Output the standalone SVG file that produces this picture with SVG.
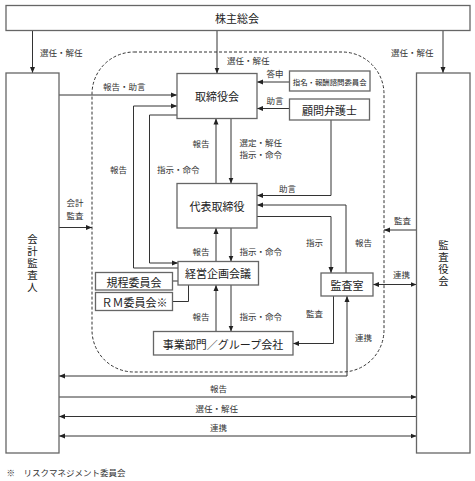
<svg xmlns="http://www.w3.org/2000/svg" width="475" height="481" viewBox="0 0 475 481">
<style>
.box{fill:#fff;stroke:#666;stroke-width:1.3}
.t{font-family:"Noto Sans CJK JP","Noto Sans CJK SC",sans-serif;font-size:11px;fill:#222;text-anchor:middle;dominant-baseline:central}
.s{font-size:7.4px}
.v{font-size:10.4px;writing-mode:vertical-rl;letter-spacing:1.6px}
.l{font-family:"Noto Sans CJK JP","Noto Sans CJK SC",sans-serif;font-size:8.5px;fill:#333;dominant-baseline:central}
.c{fill:none;stroke:#333;stroke-width:1}
.a{marker-end:url(#ah)}
.b{marker-start:url(#ah);marker-end:url(#ah)}
.d{fill:none;stroke:#333;stroke-width:1;stroke-dasharray:3 2}
</style>
<defs>
<marker id="ah" viewBox="0 0 6 6" refX="6" refY="3" markerWidth="6" markerHeight="6" markerUnits="userSpaceOnUse" orient="auto-start-reverse">
<path d="M0,0.5 L6,3 L0,5.5 z" fill="#222"/>
</marker>
</defs>
<rect width="475" height="481" fill="#fff"/>
<path class="d" d="M134,52 H342 A42,42 0 0 1 384,94 V330 A42,42 0 0 1 342,372 H134 A42,42 0 0 1 92,330 V94 A42,42 0 0 1 134,52 Z"/>
<g id="connectors">
<path class="c a" d="M32.5,30.5 V73"/>
<path class="c a" d="M217,30.5 V73.5"/>
<path class="c a" d="M443,30.5 V73"/>
<path class="c a" d="M59,95 H177"/>
<path class="c a" d="M178,268 H133.5 V106 H177"/>
<path class="c a" d="M177,115 H149.5 V263 H178"/>
<path class="c a" d="M289.5,82 H257"/>
<path class="c a" d="M289.5,108.5 H257"/>
<path class="c a" d="M216,183.5 V118.5"/>
<path class="c a" d="M231,118.5 V183.5"/>
<path class="c a" d="M331,120 V195.5 H257"/>
<path class="c a" d="M346,273 V205 H257"/>
<path class="c a" d="M257,216.5 H331 V273"/>
<path class="c a" d="M216,261.5 V228"/>
<path class="c a" d="M231,228 V261.5"/>
<path class="c a" d="M216,331.5 V285"/>
<path class="c a" d="M231,285 V331.5"/>
<path class="c" d="M172.5,281 H178"/>
<path class="c" d="M172.5,301.5 H188.5 V285"/>
<path class="c a" d="M333.5,296 V343.5 H293"/>
<path class="c a" d="M59,227.5 H92"/>
<path class="c a" d="M416.5,230 H384"/>
<path class="c b" d="M373,284.5 H416.5"/>
<path class="c b" d="M59,376 H347 V296"/>
<path class="c a" d="M59,397 H416.5"/>
<path class="c a" d="M416.5,416.5 H59"/>
<path class="c b" d="M59,436 H416.5"/>
</g>
<g id="labels">
<text class="l" x="40" y="52">選任・解任</text>
<text class="l" x="227" y="60">選任・解任</text>
<text class="l" x="391" y="52">選任・解任</text>
<text class="l" x="103" y="86">報告・助言</text>
<text class="l" x="266.5" y="73">答申</text>
<text class="l" x="266.5" y="100">助言</text>
<text class="l" x="110" y="169">報告</text>
<text class="l" x="157" y="169">指示・命令</text>
<text class="l" x="192.5" y="142.5">報告</text>
<text class="l" x="239.5" y="141.5">選定・解任</text>
<text class="l" x="239.5" y="153.5">指示・命令</text>
<text class="l" x="279" y="188">助言</text>
<text class="l" x="66.5" y="201.5">会計</text>
<text class="l" x="66.5" y="215">監査</text>
<text class="l" x="394" y="220">監査</text>
<text class="l" x="306" y="241.5">指示</text>
<text class="l" x="355" y="241.5">報告</text>
<text class="l" x="192.5" y="250.5">報告</text>
<text class="l" x="239.5" y="250.5">指示・命令</text>
<text class="l" x="393" y="274">連携</text>
<text class="l" x="192.5" y="316">報告</text>
<text class="l" x="239.5" y="316">指示・命令</text>
<text class="l" x="306" y="313">監査</text>
<text class="l" x="355" y="336.5">連携</text>
<text class="l" x="210" y="387.5">報告</text>
<text class="l" x="195.5" y="407.5">選任・解任</text>
<text class="l" x="210" y="427">連携</text>
<text class="l" x="6.5" y="472">※　リスクマネジメント委員会</text>
</g>
<g id="shareholders"><rect class="box" x="6" y="5.5" width="464" height="25"/><text class="t" x="237" y="18">株主総会</text></g>
<g id="accounting-auditor"><rect class="box" x="6" y="73" width="53" height="380"/>
<text class="t v" x="32.5" y="264">会計監査人</text></g>
<g id="audit-board"><rect class="box" x="416.5" y="73" width="53.5" height="380"/>
<text class="t v" x="443.5" y="264">監査役会</text></g>
<g id="board"><rect class="box" x="177" y="73.5" width="80" height="45"/><text class="t" x="217" y="96">取締役会</text></g>
<g id="nomination"><rect class="box" x="289.5" y="71" width="80.5" height="20"/><text class="t s" x="329.7" y="81">指名・報酬諮問委員会</text></g>
<g id="lawyer"><rect class="box" x="289.5" y="99" width="80" height="21"/><text class="t" x="329.5" y="109.5">顧問弁護士</text></g>
<g id="representative"><rect class="box" x="177" y="183.5" width="80" height="44.5"/><text class="t" x="217" y="206">代表取締役</text></g>
<g id="management-council"><rect class="box" x="178" y="261.5" width="80.5" height="23.5"/><text class="t" x="218" y="273">経営企画会議</text></g>
<g id="rules-committee"><rect class="box" x="95.5" y="272.5" width="77" height="17.5"/><text class="t" x="134" y="281.5">規程委員会</text></g>
<g id="rm-committee"><rect class="box" x="95.5" y="292.5" width="77" height="18"/><text class="t" x="134.5" y="301.5">ＲＭ委員会※</text></g>
<g id="audit-office"><rect class="box" x="321" y="273" width="52" height="23"/><text class="t" x="347" y="284.5">監査室</text></g>
<g id="business"><rect class="box" x="153.5" y="331.5" width="139.5" height="23.5"/><text class="t" x="223" y="343.5">事業部門／グループ会社</text></g>
</svg>
